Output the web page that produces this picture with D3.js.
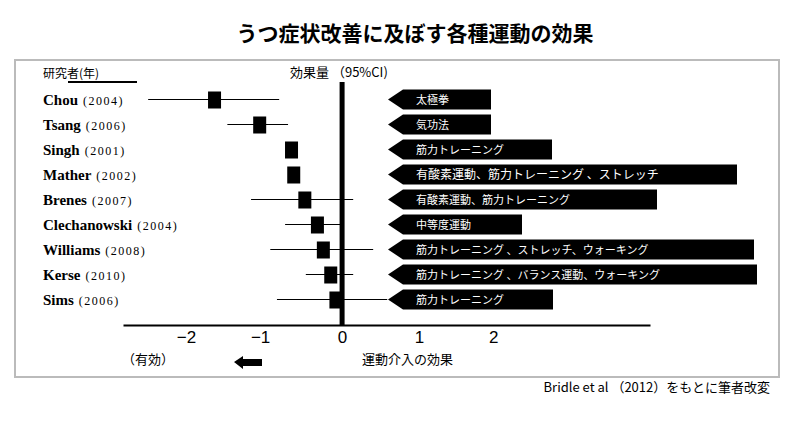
<!DOCTYPE html>
<html><head><meta charset="utf-8">
<script src="https://cdn.jsdelivr.net/npm/d3@7"></script>
<style>body{margin:0;background:#fff}</style>
</head><body><svg id="c" width="792" height="426"></svg>
<script>
const studies = ["Chou", "Tsang", "Singh", "Mather", "Brenes", "Clechanowski", "Williams", "Kerse", "Sims"];
const years = ["(2004)", "(2006)", "(2001)", "(2002)", "(2007)", "(2004)", "(2008)", "(2010)", "(2006)"];
const effect = [-1.73, -1.12, -0.69, -0.66, -0.51, -0.34, -0.26, -0.16, -0.09];
const ciLow = [-2.62, -1.55, -0.74, -0.71, -1.23, -0.77, -0.97, -0.49, -0.88];
const ciHigh = [-0.85, -0.73, -0.64, -0.61, 0.15, 0.0, 0.42, 0.15, 0.61];
const exercise = ["太極拳", "気功法", "筋力トレーニング", "有酸素運動、筋力トレーニング 、ストレッチ", "有酸素運動、筋力トレーニング", "中等度運動", "筋力トレーニング 、ストレッチ、ウォーキング", "筋力トレーニング 、バランス運動、ウォーキング", "筋力トレーニング"];
const boxEnd = [491, 491, 552, 737, 657, 522, 754, 757, 553];
const ticks = [-2, -1, 0, 1, 2];

const svg = d3.select("#c");
const jp = "'Noto Sans CJK JP', sans-serif";
const x = d3.scaleLinear().domain([-2.96, 4.16]).range([123, 650]);
const y = d3.scaleBand().domain(studies).range([87, 312]);

svg.append("text").attr("x", 415).attr("y", 41).attr("text-anchor", "middle")
  .attr("font-family", jp).attr("font-weight", "bold").attr("font-size", 21)
  .text("うつ症状改善に及ぼす各種運動の効果");
svg.append("rect").attr("x", 15).attr("y", 60).attr("width", 764).attr("height", 317)
  .attr("fill", "none").attr("stroke", "#bbb").attr("stroke-width", 2);

svg.append("text").attr("x", 43).attr("y", 78).attr("font-family", jp).attr("font-size", 12).text("研究者(年)");
svg.append("line").attr("x1", 68).attr("x2", 137).attr("y1", 82).attr("y2", 82).attr("stroke", "#000").attr("stroke-width", 2);
svg.append("text").attr("x", 290).attr("y", 77).attr("font-family", jp).attr("font-size", 13).text("効果量 （95%CI)");

const rows = svg.selectAll("g.row").data(studies).join("g")
  .attr("transform", d => `translate(0,${y(d) + y.bandwidth() / 2})`);
rows.append("text").attr("x", 43).attr("y", 5).attr("font-family", "'Liberation Serif', serif")
  .each(function (d, i) {
    const t = d3.select(this);
    t.append("tspan").attr("font-weight", "bold").attr("font-size", 15).text(d);
    t.append("tspan").attr("font-size", 12).attr("dx", 5).attr("letter-spacing", 1.5).text(years[i]);
  });
rows.append("line").attr("x1", (d, i) => x(ciLow[i])).attr("x2", (d, i) => x(ciHigh[i]))
  .attr("stroke", "#000").attr("stroke-width", 1);
rows.append("rect").attr("x", (d, i) => x(effect[i]) - 6).attr("y", -8).attr("width", 13).attr("height", 17).attr("fill", "#000");
rows.append("path").attr("d", (d, i) => `M388,0 L403,-10 L${boxEnd[i]},-10 L${boxEnd[i]},10 L403,10 Z`).attr("fill", "#000");
rows.append("text").attr("x", 416).attr("y", 4).attr("fill", "#fff").attr("font-family", jp)
  .attr("font-size", (d, i) => i === 3 ? 12 : 11).text((d, i) => exercise[i]);

svg.append("line").attr("x1", x(0)).attr("x2", x(0)).attr("y1", 82).attr("y2", 325).attr("stroke", "#000").attr("stroke-width", 5);

const ax = svg.append("g").attr("transform", "translate(0,325)")
  .call(d3.axisBottom(x).tickValues(ticks).tickSize(0).tickFormat(d => d < 0 ? "−" + Math.abs(d) : d));
ax.select(".domain").attr("stroke-width", 2);
ax.selectAll("text").attr("font-family", "'Liberation Sans', sans-serif").attr("font-size", 17).attr("dy", "0.9em")
  .attr("dx", d => d < 0 ? -8 : (d > 0 ? 3 : 0));
ax.selectAll(".tick").append("circle").attr("r", 1.5).attr("cy", -1);

svg.append("text").attr("x", 122).attr("y", 364).attr("font-family", jp).attr("font-size", 13).text("（有効）");
svg.append("path").attr("d", "M234,362 L243,356 L243,359 L262,359 L262,366 L243,366 L243,369 Z").attr("fill", "#000");
svg.append("text").attr("x", 362).attr("y", 364).attr("font-family", jp).attr("font-size", 13).text("運動介入の効果");
svg.append("text").attr("x", 770).attr("y", 392).attr("text-anchor", "end").attr("font-family", jp).attr("font-size", 13).text("Bridle et al （2012）をもとに筆者改変");
</script></body></html>
